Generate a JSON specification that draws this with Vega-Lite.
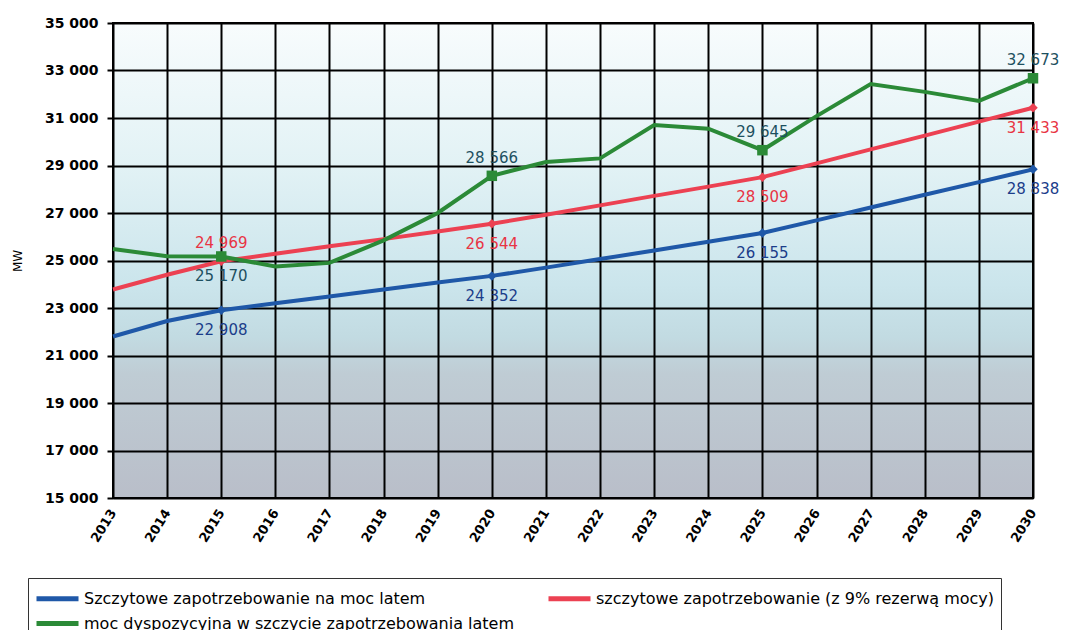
{
  "$schema": "https://vega.github.io/schema/vega-lite/v6.json",
  "autosize": "none",
  "width": 920,
  "height": 475,
  "padding": {"left": 113, "top": 23, "right": 38, "bottom": 132},
  "background": "white",
  "config": {
    "locale": {"number": {"decimal": ",", "thousands": " ", "grouping": [3], "currency": ["", ""]}},
    "font": "DejaVu Sans",
    "view": {
      "stroke": "black",
      "strokeWidth": 2,
      "fill": {
        "gradient": "linear", "x1": 0, "y1": 0, "x2": 0, "y2": 1,
        "stops": [
          {"offset": 0, "color": "#f8fcfd"},
          {"offset": 0.3, "color": "#e2f2f5"},
          {"offset": 0.55, "color": "#cbe5ec"},
          {"offset": 0.66, "color": "#c2dbe2"},
          {"offset": 0.74, "color": "#bfccd4"},
          {"offset": 1, "color": "#b9bec9"}
        ]
      }
    }
  },
  "data": {"values": [
    {"year": 2013, "seria": "Szczytowe zapotrzebowanie na moc latem", "value": 21800},
    {"year": 2014, "seria": "Szczytowe zapotrzebowanie na moc latem", "value": 22450},
    {"year": 2015, "seria": "Szczytowe zapotrzebowanie na moc latem", "value": 22908},
    {"year": 2016, "seria": "Szczytowe zapotrzebowanie na moc latem", "value": 23200},
    {"year": 2017, "seria": "Szczytowe zapotrzebowanie na moc latem", "value": 23480},
    {"year": 2018, "seria": "Szczytowe zapotrzebowanie na moc latem", "value": 23780},
    {"year": 2019, "seria": "Szczytowe zapotrzebowanie na moc latem", "value": 24070},
    {"year": 2020, "seria": "Szczytowe zapotrzebowanie na moc latem", "value": 24352},
    {"year": 2021, "seria": "Szczytowe zapotrzebowanie na moc latem", "value": 24700},
    {"year": 2022, "seria": "Szczytowe zapotrzebowanie na moc latem", "value": 25060},
    {"year": 2023, "seria": "Szczytowe zapotrzebowanie na moc latem", "value": 25420},
    {"year": 2024, "seria": "Szczytowe zapotrzebowanie na moc latem", "value": 25790},
    {"year": 2025, "seria": "Szczytowe zapotrzebowanie na moc latem", "value": 26155},
    {"year": 2026, "seria": "Szczytowe zapotrzebowanie na moc latem", "value": 26690},
    {"year": 2027, "seria": "Szczytowe zapotrzebowanie na moc latem", "value": 27230},
    {"year": 2028, "seria": "Szczytowe zapotrzebowanie na moc latem", "value": 27770},
    {"year": 2029, "seria": "Szczytowe zapotrzebowanie na moc latem", "value": 28300},
    {"year": 2030, "seria": "Szczytowe zapotrzebowanie na moc latem", "value": 28838},
    {"year": 2013, "seria": "szczytowe zapotrzebowanie (z 9% rezerwą mocy)", "value": 23780},
    {"year": 2014, "seria": "szczytowe zapotrzebowanie (z 9% rezerwą mocy)", "value": 24400},
    {"year": 2015, "seria": "szczytowe zapotrzebowanie (z 9% rezerwą mocy)", "value": 24969},
    {"year": 2016, "seria": "szczytowe zapotrzebowanie (z 9% rezerwą mocy)", "value": 25280},
    {"year": 2017, "seria": "szczytowe zapotrzebowanie (z 9% rezerwą mocy)", "value": 25600},
    {"year": 2018, "seria": "szczytowe zapotrzebowanie (z 9% rezerwą mocy)", "value": 25900},
    {"year": 2019, "seria": "szczytowe zapotrzebowanie (z 9% rezerwą mocy)", "value": 26220},
    {"year": 2020, "seria": "szczytowe zapotrzebowanie (z 9% rezerwą mocy)", "value": 26544},
    {"year": 2021, "seria": "szczytowe zapotrzebowanie (z 9% rezerwą mocy)", "value": 26930},
    {"year": 2022, "seria": "szczytowe zapotrzebowanie (z 9% rezerwą mocy)", "value": 27320},
    {"year": 2023, "seria": "szczytowe zapotrzebowanie (z 9% rezerwą mocy)", "value": 27720},
    {"year": 2024, "seria": "szczytowe zapotrzebowanie (z 9% rezerwą mocy)", "value": 28110},
    {"year": 2025, "seria": "szczytowe zapotrzebowanie (z 9% rezerwą mocy)", "value": 28509},
    {"year": 2026, "seria": "szczytowe zapotrzebowanie (z 9% rezerwą mocy)", "value": 29090},
    {"year": 2027, "seria": "szczytowe zapotrzebowanie (z 9% rezerwą mocy)", "value": 29680},
    {"year": 2028, "seria": "szczytowe zapotrzebowanie (z 9% rezerwą mocy)", "value": 30260},
    {"year": 2029, "seria": "szczytowe zapotrzebowanie (z 9% rezerwą mocy)", "value": 30850},
    {"year": 2030, "seria": "szczytowe zapotrzebowanie (z 9% rezerwą mocy)", "value": 31433},
    {"year": 2013, "seria": "moc dyspozycyjna w szczycie zapotrzebowania latem", "value": 25480},
    {"year": 2014, "seria": "moc dyspozycyjna w szczycie zapotrzebowania latem", "value": 25180},
    {"year": 2015, "seria": "moc dyspozycyjna w szczycie zapotrzebowania latem", "value": 25170},
    {"year": 2016, "seria": "moc dyspozycyjna w szczycie zapotrzebowania latem", "value": 24750},
    {"year": 2017, "seria": "moc dyspozycyjna w szczycie zapotrzebowania latem", "value": 24900},
    {"year": 2018, "seria": "moc dyspozycyjna w szczycie zapotrzebowania latem", "value": 25850},
    {"year": 2019, "seria": "moc dyspozycyjna w szczycie zapotrzebowania latem", "value": 27000},
    {"year": 2020, "seria": "moc dyspozycyjna w szczycie zapotrzebowania latem", "value": 28566},
    {"year": 2021, "seria": "moc dyspozycyjna w szczycie zapotrzebowania latem", "value": 29150},
    {"year": 2022, "seria": "moc dyspozycyjna w szczycie zapotrzebowania latem", "value": 29300},
    {"year": 2023, "seria": "moc dyspozycyjna w szczycie zapotrzebowania latem", "value": 30700},
    {"year": 2024, "seria": "moc dyspozycyjna w szczycie zapotrzebowania latem", "value": 30550},
    {"year": 2025, "seria": "moc dyspozycyjna w szczycie zapotrzebowania latem", "value": 29645},
    {"year": 2026, "seria": "moc dyspozycyjna w szczycie zapotrzebowania latem", "value": 31080},
    {"year": 2027, "seria": "moc dyspozycyjna w szczycie zapotrzebowania latem", "value": 32430},
    {"year": 2028, "seria": "moc dyspozycyjna w szczycie zapotrzebowania latem", "value": 32100},
    {"year": 2029, "seria": "moc dyspozycyjna w szczycie zapotrzebowania latem", "value": 31720},
    {"year": 2030, "seria": "moc dyspozycyjna w szczycie zapotrzebowania latem", "value": 32673}
  ]},
  "encoding": {
    "x": {
      "field": "year", "type": "quantitative",
      "scale": {"domain": [2013, 2030], "nice": false, "zero": false},
      "axis": {
        "values": [2013,2014,2015,2016,2017,2018,2019,2020,2021,2022,2023,2024,2025,2026,2027,2028,2029,2030],
        "format": "d", "title": null, "labelAngle": -58, "labelFontSize": 13,
        "labelColor": "black", "labelFontWeight": "bold",
        "grid": true, "gridColor": "black", "gridWidth": 2, "gridOpacity": 1,
        "domain": false, "ticks": false, "labelPadding": 12
      }
    },
    "y": {
      "field": "value", "type": "quantitative",
      "scale": {"domain": [15000, 35000], "nice": false, "zero": false},
      "axis": {
        "values": [15000,17000,19000,21000,23000,25000,27000,29000,31000,33000,35000],
        "format": ",d", "title": "MW", "titleFontSize": 12, "titleFontWeight": "normal",
        "titleColor": "black", "titlePadding": 20,
        "labelFontSize": 14, "labelFontWeight": "bold", "labelColor": "black", "labelPadding": 9,
        "grid": true, "gridColor": "black", "gridWidth": 2, "gridOpacity": 1,
        "domain": false, "ticks": true, "tickColor": "black", "tickSize": 6, "tickWidth": 2
      }
    },
    "color": {
      "field": "seria", "type": "nominal",
      "scale": {
        "domain": ["Szczytowe zapotrzebowanie na moc latem", "szczytowe zapotrzebowanie (z 9% rezerwą mocy)", "moc dyspozycyjna w szczycie zapotrzebowania latem"],
        "range": ["#1f58a8", "#ec4152", "#2b8a37"]
      },
      "legend": {
        "title": null, "orient": "none", "legendX": -85, "legendY": 555,
        "direction": "horizontal", "columns": 2, "columnPadding": 23, "rowPadding": 0,
        "strokeColor": "#333", "padding": 6, "fillColor": "white",
        "symbolType": "M-1,0H2.5", "symbolSize": 576, "symbolStrokeWidth": 5,
        "labelFontSize": 16, "labelColor": "black", "labelLimit": 0, "labelOffset": 21
      }
    }
  },
  "layer": [
    {
      "mark": {"type": "line", "strokeWidth": 4}
    },
    {
      "transform": [{"filter": "datum.year % 5 == 0 && datum.seria[0] !== 'm'"}],
      "mark": {"type": "point", "filled": true, "size": 90, "opacity": 1, "shape": "diamond"}
    },
    {
      "transform": [{"filter": "datum.year % 5 == 0 && datum.seria[0] === 'm'"}],
      "mark": {"type": "point", "filled": true, "size": 110, "opacity": 1, "shape": "square"}
    },
    {
      "transform": [
        {"filter": "datum.year % 5 == 0"},
        {"filter": "(datum.seria[0] === 'S') || (datum.seria[0] === 's' && datum.year != 2015) || (datum.seria[0] === 'm' && datum.year == 2015)"}
      ],
      "mark": {"type": "text", "dy": 20, "fontSize": 15},
      "encoding": {
        "text": {"field": "value", "type": "quantitative", "format": ",d"},
        "color": {
          "condition": [
            {"test": "datum.seria[0] === 'S'", "value": "#1b3d8a"},
            {"test": "datum.seria[0] === 's'", "value": "#e83444"}
          ],
          "value": "#1d5060"
        }
      }
    },
    {
      "transform": [
        {"filter": "datum.year % 5 == 0"},
        {"filter": "(datum.seria[0] === 's' && datum.year == 2015) || (datum.seria[0] === 'm' && datum.year != 2015)"}
      ],
      "mark": {"type": "text", "dy": -18, "fontSize": 15},
      "encoding": {
        "text": {"field": "value", "type": "quantitative", "format": ",d"},
        "color": {
          "condition": [
            {"test": "datum.seria[0] === 'S'", "value": "#1b3d8a"},
            {"test": "datum.seria[0] === 's'", "value": "#e83444"}
          ],
          "value": "#1d5060"
        }
      }
    }
  ]
}
